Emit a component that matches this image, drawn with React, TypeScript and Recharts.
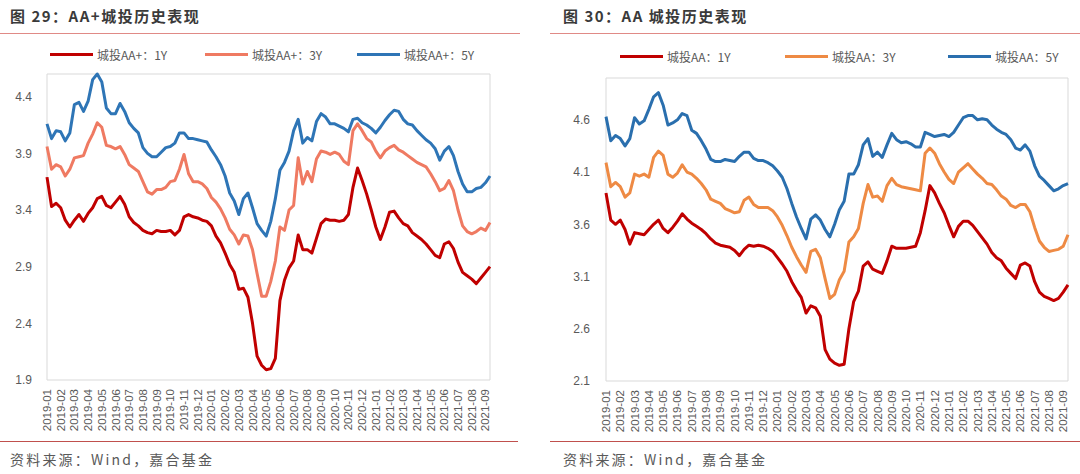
import React from "react";
import { LineChart, Line, XAxis, YAxis, ReferenceArea } from "recharts";

// month labels on the x axis; each month is sampled on the 1st, 11th and 21st
const months = [
  "2019-01", "2019-02", "2019-03", "2019-04", "2019-05", "2019-06", "2019-07", "2019-08", "2019-09", "2019-10", "2019-11", "2019-12",
  "2020-01", "2020-02", "2020-03", "2020-04", "2020-05", "2020-06", "2020-07", "2020-08", "2020-09", "2020-10", "2020-11", "2020-12",
  "2021-01", "2021-02", "2021-03", "2021-04", "2021-05", "2021-06", "2021-07", "2021-08", "2021-09",
];
const sampleDays = ["01", "11", "21"];
const dates = months.flatMap((m) => sampleDays.map((d) => `${m}-${d}`)).slice(0, 98);

// 图29: AA+ 城投
const aaPlus1Y = [
  3.69, 3.43, 3.46, 3.42, 3.31, 3.25, 3.31, 3.36, 3.30, 3.37,
  3.42, 3.50, 3.52, 3.44, 3.42, 3.47, 3.52, 3.45, 3.34, 3.29,
  3.26, 3.22, 3.20, 3.19, 3.22, 3.21, 3.21, 3.22, 3.18, 3.22,
  3.34, 3.36, 3.34, 3.33, 3.31, 3.30, 3.26, 3.17, 3.11, 3.02,
  2.92, 2.85, 2.70, 2.71, 2.63, 2.40, 2.11, 2.03, 1.99, 2.00,
  2.09, 2.60, 2.78, 2.89, 2.95, 3.18, 3.05, 3.05, 3.02, 3.15,
  3.28, 3.32, 3.31, 3.31, 3.30, 3.31, 3.36, 3.60, 3.77, 3.66,
  3.54, 3.40, 3.25, 3.14, 3.25, 3.38, 3.39, 3.33, 3.28, 3.26,
  3.20, 3.17, 3.14, 3.10, 3.05, 3.00, 2.98, 3.10, 3.12, 3.06,
  2.94, 2.85, 2.82, 2.79, 2.75, 2.80, 2.85, 2.90,
];
const aaPlus3Y = [
  3.96, 3.76, 3.80, 3.78, 3.70, 3.76, 3.86, 3.87, 3.88, 3.99,
  4.07, 4.17, 4.13, 3.97, 3.96, 3.94, 3.96, 3.89, 3.80, 3.77,
  3.74, 3.65, 3.56, 3.54, 3.58, 3.58, 3.60, 3.65, 3.66, 3.76,
  3.89, 3.72, 3.65, 3.65, 3.63, 3.59, 3.51, 3.47, 3.41, 3.33,
  3.23, 3.18, 3.10, 3.18, 3.17, 3.05, 2.84, 2.64, 2.64, 2.77,
  2.95, 3.25, 3.22, 3.40, 3.44, 3.86, 3.63, 3.74, 3.65, 3.85,
  3.92, 3.91, 3.89, 3.91, 3.89, 3.83, 3.80, 4.10, 4.16, 4.10,
  4.03, 4.00, 3.92, 3.86, 3.92, 3.95, 3.97, 3.93, 3.91, 3.88,
  3.85, 3.82, 3.80, 3.78, 3.72, 3.65, 3.57, 3.59, 3.66, 3.57,
  3.40, 3.26, 3.21, 3.19, 3.21, 3.24, 3.22, 3.29,
];
const aaPlus5Y = [
  4.16, 4.03, 4.10, 4.09, 4.01, 4.08, 4.33, 4.35, 4.27, 4.36,
  4.55, 4.60, 4.53, 4.30, 4.25, 4.25, 4.34, 4.27, 4.17, 4.12,
  4.08, 3.95, 3.90, 3.87, 3.87, 3.91, 3.95, 3.96, 3.99, 4.08,
  4.08, 4.03, 4.03, 4.02, 4.01, 4.00, 3.93, 3.87, 3.80, 3.70,
  3.55, 3.48, 3.36, 3.50, 3.55, 3.42, 3.28, 3.22, 3.17, 3.30,
  3.50, 3.75, 3.82, 3.92, 4.10, 4.20, 3.99, 4.04, 4.01, 4.18,
  4.25, 4.22, 4.16, 4.16, 4.14, 4.12, 4.09, 4.20, 4.21, 4.17,
  4.15, 4.12, 4.08, 4.13, 4.19, 4.24, 4.28, 4.27, 4.20, 4.16,
  4.15, 4.10, 4.06, 4.02, 3.99, 3.94, 3.84, 3.92, 3.96, 3.88,
  3.74, 3.63, 3.56, 3.56, 3.59, 3.60, 3.64, 3.70,
];

// 图30: AA 城投
const aa1Y = [
  3.90, 3.64, 3.60, 3.64, 3.55, 3.41, 3.52, 3.51, 3.50, 3.55,
  3.60, 3.64, 3.56, 3.52, 3.57, 3.63, 3.70, 3.65, 3.61, 3.58,
  3.55, 3.51, 3.46, 3.42, 3.40, 3.39, 3.38, 3.35, 3.30, 3.36,
  3.40, 3.39, 3.40, 3.39, 3.37, 3.34, 3.28, 3.22, 3.15, 3.05,
  2.97, 2.90, 2.75, 2.82, 2.80, 2.72, 2.40, 2.31, 2.27, 2.25,
  2.26, 2.60, 2.86, 2.96, 3.20, 3.24, 3.17, 3.15, 3.13, 3.25,
  3.39, 3.37, 3.37, 3.37, 3.38, 3.39, 3.52, 3.73, 3.97, 3.90,
  3.80, 3.71, 3.59, 3.48, 3.58, 3.63, 3.63, 3.59, 3.53, 3.47,
  3.41, 3.33, 3.28, 3.25, 3.18, 3.13, 3.08, 3.21, 3.23, 3.20,
  3.05, 2.95, 2.91, 2.89, 2.87, 2.89, 2.95, 3.02,
];
const aa3Y = [
  4.19, 3.96, 4.00, 3.96, 3.86, 3.90, 4.08, 4.06, 4.08, 4.05,
  4.24, 4.30, 4.26, 4.08, 4.05, 4.09, 4.17, 4.10, 4.08, 4.04,
  3.99, 3.93, 3.84, 3.82, 3.80, 3.75, 3.73, 3.71, 3.72, 3.83,
  3.86, 3.79, 3.76, 3.76, 3.76, 3.73, 3.67, 3.59, 3.49, 3.38,
  3.29, 3.21, 3.14, 3.34, 3.36, 3.28, 3.08, 2.89, 2.93, 3.07,
  3.15, 3.43, 3.48, 3.56, 3.80, 3.98, 3.86, 3.87, 3.82, 3.97,
  4.04, 3.98, 3.96, 3.95, 3.94, 3.93, 3.92, 4.28, 4.33, 4.28,
  4.18, 4.10, 4.03, 3.99, 4.10, 4.14, 4.18, 4.13, 4.08, 4.04,
  3.99, 3.98, 3.93, 3.87, 3.84, 3.78, 3.76, 3.79, 3.79, 3.72,
  3.57, 3.44, 3.38, 3.34, 3.35, 3.36, 3.39, 3.50,
];
const aa5Y = [
  4.63, 4.40, 4.45, 4.42, 4.35, 4.42, 4.62, 4.56, 4.59, 4.70,
  4.82, 4.86, 4.74, 4.55, 4.57, 4.60, 4.66, 4.64, 4.50, 4.47,
  4.40, 4.32, 4.22, 4.20, 4.20, 4.22, 4.21, 4.20, 4.25, 4.29,
  4.29, 4.23, 4.21, 4.21, 4.19, 4.16, 4.11, 4.05, 3.94, 3.80,
  3.67, 3.56, 3.46, 3.65, 3.69, 3.64, 3.55, 3.48, 3.60, 3.74,
  3.82, 4.08, 4.08, 4.17, 4.36, 4.42, 4.25, 4.29, 4.24, 4.36,
  4.47, 4.41, 4.38, 4.39, 4.37, 4.34, 4.34, 4.48, 4.46, 4.44,
  4.45, 4.46, 4.44, 4.48, 4.55, 4.62, 4.64, 4.64, 4.60, 4.61,
  4.60, 4.55, 4.51, 4.48, 4.46, 4.41, 4.33, 4.31, 4.36, 4.30,
  4.16, 4.06, 4.02, 3.97, 3.92, 3.94, 3.97, 3.99,
];

const aaPlusTicks = [1.9, 2.4, 2.9, 3.4, 3.9, 4.4];
const aaTicks = [2.1, 2.6, 3.1, 3.6, 4.1, 4.6];

const TEXT = "#595959";
const SANS = "'Liberation Sans', Arial, sans-serif";
const CJK = "'Noto Sans CJK SC', 'Noto Sans', sans-serif";

type Series = { key: string; name: string; color: string; values: number[] };

type PanelProps = {
  offsetX: number;
  title: string;
  series: Series[];
  domain: [number, number];
  yTicks: number[];
  margin: { top: number; right: number; bottom: number; left: number };
  yAxisWidth: number;
  tickGap: number;
  textLeft: number;
  topRule: [number, number];
  bottomRule: [number, number];
  legendLefts: number[];
  legendTop: number;
};

function MonthTick(props: any) {
  const { x, y, payload } = props;
  return (
    <g transform={`translate(${x},${y})`}>
      <text transform="rotate(-90)" textAnchor="end" dy="0.35em" fill={TEXT} fontSize={11.5} fontFamily={SANS}>
        {String(payload.value).slice(0, 7)}
      </text>
    </g>
  );
}

function Panel(p: PanelProps) {
  const rows = dates.map((date, i) => {
    const row: Record<string, string | number> = { date };
    p.series.forEach((s) => {
      row[s.key] = s.values[i];
    });
    return row;
  });

  return (
    <div style={{ position: "absolute", left: p.offsetX, top: 0, width: 540, height: 474 }}>
      <div
        style={{
          position: "absolute",
          left: p.textLeft,
          top: 5,
          fontFamily: CJK,
          fontWeight: 700,
          fontSize: 15,
          letterSpacing: 1.5,
          color: "#3a3a3a",
          whiteSpace: "nowrap",
        }}
      >
        {p.title}
      </div>
      <div
        style={{
          position: "absolute",
          left: p.topRule[0],
          width: p.topRule[1] - p.topRule[0],
          top: 33,
          height: 1,
          background: "#e08a86",
        }}
      />
      {p.series.map((s, i) => (
        <div
          key={s.key}
          style={{
            position: "absolute",
            left: p.legendLefts[i],
            top: p.legendTop,
            display: "flex",
            alignItems: "center",
            whiteSpace: "nowrap",
            fontFamily: CJK,
            fontSize: 12,
            color: TEXT,
          }}
        >
          <span style={{ display: "inline-block", width: 43, height: 3, background: s.color, marginRight: 4 }} />
          {s.name}
        </div>
      ))}
      <div style={{ position: "absolute", left: 0, top: 0 }}>
        <LineChart width={540} height={474} data={rows} margin={p.margin}>
          <ReferenceArea
            x1={dates[0]}
            x2={dates[dates.length - 1]}
            y1={p.domain[0]}
            y2={p.domain[1]}
            fill="none"
            stroke="#d9d9d9"
            strokeWidth={1}
          />
          <XAxis
            dataKey="date"
            interval={2}
            tick={<MonthTick />}
            tickLine={false}
            axisLine={false}
            tickMargin={3}
            height={60}
          />
          <YAxis
            type="number"
            domain={p.domain}
            ticks={p.yTicks}
            tickFormatter={(v: number) => v.toFixed(1)}
            tick={{ fill: TEXT, fontSize: 12, fontFamily: SANS }}
            tickLine={false}
            axisLine={false}
            tickMargin={p.tickGap}
            width={p.yAxisWidth}
          />
          {p.series.map((s) => (
            <Line
              key={s.key}
              type="linear"
              dataKey={s.key}
              name={s.name}
              stroke={s.color}
              strokeWidth={3}
              strokeLinejoin="round"
              dot={false}
              isAnimationActive={false}
            />
          ))}
        </LineChart>
      </div>
      <div
        style={{
          position: "absolute",
          left: p.bottomRule[0],
          width: p.bottomRule[1] - p.bottomRule[0],
          top: 441,
          height: 1,
          background: "#c0504d",
        }}
      />
      <div
        style={{
          position: "absolute",
          left: p.textLeft,
          top: 449,
          fontFamily: CJK,
          fontSize: 14,
          letterSpacing: 2.2,
          color: TEXT,
          whiteSpace: "nowrap",
        }}
      >
        资料来源：Wind，嘉合基金
      </div>
    </div>
  );
}

export default function App() {
  return (
    <div style={{ position: "absolute", left: 0, top: 0, width: 1080, height: 474, background: "#fff", overflow: "hidden" }}>
      <Panel
        offsetX={0}
        title="图 29：AA+城投历史表现"
        series={[
          { key: "y1", name: "城投AA+：1Y", color: "#c00000", values: aaPlus1Y },
          { key: "y3", name: "城投AA+：3Y", color: "#ef7a62", values: aaPlus3Y },
          { key: "y5", name: "城投AA+：5Y", color: "#2e75b6", values: aaPlus5Y },
        ]}
        domain={[1.9, 4.6]}
        yTicks={aaPlusTicks}
        margin={{ top: 74, right: 50, bottom: 34, left: 7 }}
        yAxisWidth={40}
        tickGap={9}
        textLeft={10}
        topRule={[0, 520]}
        bottomRule={[0, 518]}
        legendLefts={[50, 205, 357]}
        legendTop={46}
      />
      <Panel
        offsetX={540}
        title="图 30：AA 城投历史表现"
        series={[
          { key: "y1", name: "城投AA：1Y", color: "#c00000", values: aa1Y },
          { key: "y3", name: "城投AA：3Y", color: "#ee8a44", values: aa3Y },
          { key: "y5", name: "城投AA：5Y", color: "#2a6fae", values: aa5Y },
        ]}
        domain={[2.1, 5.0]}
        yTicks={aaTicks}
        margin={{ top: 78, right: 12, bottom: 33, left: 16 }}
        yAxisWidth={50}
        tickGap={10}
        textLeft={23}
        topRule={[10, 540]}
        bottomRule={[10, 540]}
        legendLefts={[80, 245, 408]}
        legendTop={48}
      />
    </div>
  );
}
